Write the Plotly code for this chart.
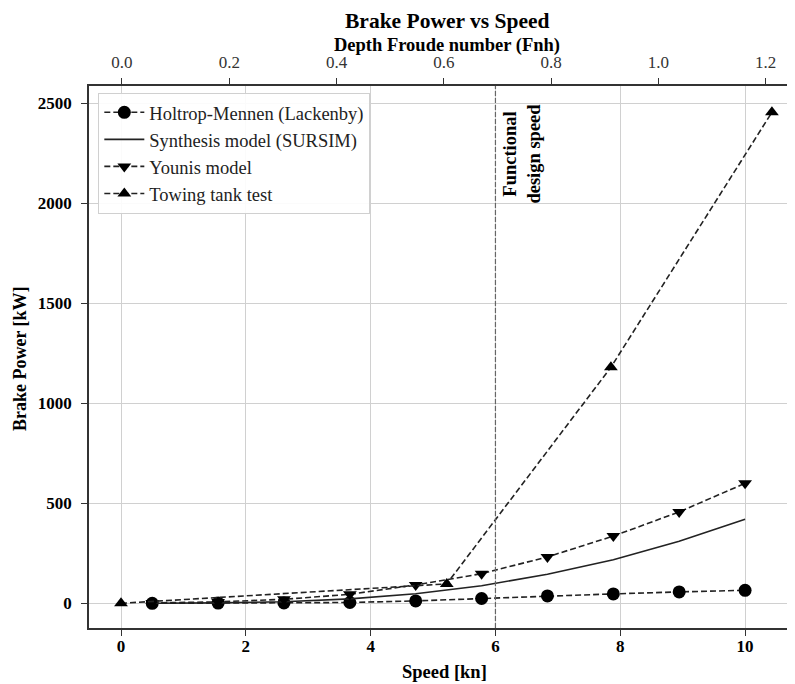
import plotly.graph_objects as go

# Data
speed_kn = [0.5, 1.556, 2.611, 3.667, 4.722, 5.778, 6.833, 7.889, 8.944, 10.0]
holtrop_kw = [0, 1, 2, 4, 12, 24, 37, 47, 57, 65]
sursim_kw = [0.5, 2, 8, 22, 48, 88, 145, 218, 310, 420]
younis_kw = [2, 7, 20, 45, 92, 148, 232, 336, 457, 600]
tank_speed_kn = [0.0, 5.22, 7.85, 10.43]
tank_kw = [0, 97, 1180, 2455]
design_speed_kn = 6.0
speed_ticks = [0, 2, 4, 6, 8, 10]
power_ticks = [0, 500, 1000, 1500, 2000, 2500]
fnh_ticks = [0.0, 0.2, 0.4, 0.6, 0.8, 1.0, 1.2]

FONT = "Liberation Serif, Times New Roman, serif"
INK = "#222222"
DASH = "6px,3px"

fig = go.Figure()

fig.add_trace(go.Scatter(
    x=speed_kn, y=holtrop_kw, name="Holtrop-Mennen (Lackenby)",
    mode="lines+markers",
    line=dict(color=INK, width=1.6, dash=DASH),
    marker=dict(symbol="circle", size=13, color="black"),
))
fig.add_trace(go.Scatter(
    x=speed_kn, y=sursim_kw, name="Synthesis model (SURSIM)",
    mode="lines",
    line=dict(color=INK, width=1.6),
))
fig.add_trace(go.Scatter(
    x=speed_kn, y=younis_kw, name="Younis model",
    mode="lines+markers",
    line=dict(color=INK, width=1.6, dash=DASH),
    marker=dict(symbol="triangle-down", size=12, color="black"),
))
fig.add_trace(go.Scatter(
    x=tank_speed_kn, y=tank_kw, name="Towing tank test",
    mode="lines+markers",
    line=dict(color=INK, width=1.6, dash=DASH),
    marker=dict(symbol="triangle-up", size=12, color="black"),
))
# invisible trace to carry the top (Froude number) axis
fig.add_trace(go.Scatter(
    x=[fnh_ticks[0], fnh_ticks[-1]], y=[0, 0], xaxis="x2", yaxis="y",
    mode="lines", opacity=0, showlegend=False, hoverinfo="skip",
))

fig.add_shape(type="line", xref="x", yref="paper",
              x0=design_speed_kn, x1=design_speed_kn, y0=0, y1=1,
              line=dict(color="#666666", width=1.2, dash="5px,2px"))

fig.add_annotation(x=6.43, y=2250, xref="x", yref="y",
                   text="Functional<br>design speed", textangle=-90,
                   showarrow=False,
                   font=dict(family=FONT, size=18.5, color="black", weight="bold"))

# titles placed as text in paper coordinates
def ptext(text, x, y, size, angle=0):
    fig.add_annotation(x=x, y=y, xref="paper", yref="paper", text=text,
                       showarrow=False, textangle=angle,
                       xanchor="center", yanchor="middle",
                       font=dict(family=FONT, size=size, color="black",
                                 weight="bold"))

ptext("Brake Power vs Speed", 0.5064, 1.1205, 21.5)
ptext("Depth Froude number (Fnh)", 0.5064, 1.0750, 18.5)
ptext("Speed [kn]", 0.5035, -0.0806, 18.5)
ptext("Brake Power [kW]", -0.0977, 0.4963, 18, angle=-90)

axis_common = dict(showline=True, linecolor="#333333", linewidth=1.5,
                   ticks="outside", ticklen=6, tickwidth=1.2, tickcolor="#333333",
                   zeroline=False, automargin=False)

# the page adds an 8px body margin, so margins are offset by 8px
fig.update_layout(
    width=795, height=684,
    margin=dict(l=81, r=8, t=78, b=64),
    paper_bgcolor="white", plot_bgcolor="white",
    font=dict(family=FONT, size=17, color="black"),
    xaxis=dict(range=[-0.513, 10.80], tickvals=speed_ticks,
               showgrid=True, gridcolor="#d0d0d0", gridwidth=1.4,
               tickfont=dict(family=FONT, size=17, weight="bold"),
               ticklabelstandoff=-4,
               **axis_common),
    xaxis2=dict(overlaying="x", side="top", range=[-0.0615, 1.2546],
                tickvals=fnh_ticks, tickformat=".1f", showgrid=False,
                tickfont=dict(family=FONT, size=17, color="#333333"),
                ticklabelstandoff=3,
                **axis_common),
    yaxis=dict(range=[-123.5, 2586.5], tickvals=power_ticks,
               showgrid=True, gridcolor="#d0d0d0", gridwidth=1.4,
               tickfont=dict(family=FONT, size=17, weight="bold"),
               ticklabelstandoff=6,
               **axis_common),
    legend=dict(x=0.0132, y=0.9875, xanchor="left", yanchor="top",
                bgcolor="rgba(255,255,255,0.9)", bordercolor="#d0d0d0",
                borderwidth=1, font=dict(family=FONT, size=18.5, color="#222"),
                tracegroupgap=0, itemwidth=40),
    showlegend=True,
)

fig.write_html("out.html")
